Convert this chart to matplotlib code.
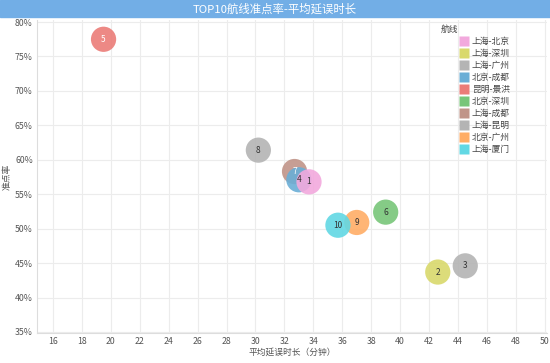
import matplotlib
matplotlib.use('Agg')
import matplotlib.pyplot as plt
from matplotlib.patches import Rectangle
from matplotlib.lines import Line2D

plt.rcParams['font.family'] = ['Noto Sans CJK SC', 'DejaVu Sans']

routes = ['上海-北京', '上海-深圳', '上海-广州', '北京-成都', '昆明-景洪',
          '北京-深圳', '上海-成都', '上海-昆明', '北京-广州', '上海-厦门']
ranks = [1, 2, 3, 4, 5, 6, 7, 8, 9, 10]
delay = [33.7, 42.6, 44.5, 33.0, 19.5, 39.0, 32.7, 30.2, 37.0, 35.7]
ontime = [56.8, 43.7, 44.6, 57.1, 77.5, 52.4, 58.3, 61.4, 50.9, 50.5]
colors = ['#f2a9dd', '#d9d96c', '#b4b4b4', '#6aaed6', '#eb7c78',
          '#78c679', '#c09488', '#b4b4b4', '#ffad66', '#62d8e4']
xticks = list(range(16, 51, 2))
yticks = list(range(35, 81, 5))

fig = plt.figure(figsize=(5.5, 3.63), dpi=100)
ax = fig.add_axes([37 / 550, 30 / 363, 510 / 550, 313 / 363])

# title bar
fig.patches.append(Rectangle((0, 346 / 363), 1, 17 / 363, transform=fig.transFigure,
                             color='#72aee6', zorder=0))
fig.text(0.5, 354.5 / 363, 'TOP10航线准点率-平均延误时长', ha='center', va='center',
         color='white', fontsize=8.2)

# draw in reverse so lower ranks sit on top
order = [4, 7, 6, 5, 2, 1, 8, 9, 3, 0]
for i in order:
    ax.scatter(delay[i], ontime[i], s=330, color=colors[i], alpha=0.9,
               edgecolors='none', zorder=3)
    ax.text(delay[i], ontime[i], str(ranks[i]), ha='center', va='center',
            fontsize=6, color='white' if ranks[i] in (5, 7) else '#333333', zorder=4)

ax.set_xlim(14.9, 50.15)
ax.set_ylim(34.85, 80.3)
ax.set_xticks(xticks)
ax.set_yticks(yticks)
ax.set_yticklabels(['%d%%' % v for v in yticks])
ax.tick_params(labelsize=6.3, colors='#555555', length=0, pad=3)
ax.grid(True, color='#ececec', linewidth=0.8)
ax.set_axisbelow(True)
for s in ['top', 'right']:
    ax.spines[s].set_visible(False)
for s in ['left', 'bottom']:
    ax.spines[s].set_color('#dddddd')

ax.set_xlabel('平均延误时长（分钟）', fontsize=6.3, color='#555555', labelpad=1)
ax.set_ylabel('准点率', fontsize=6.3, color='#555555', labelpad=2)

handles = [Line2D([0], [0], marker='s', linestyle='none', markersize=7,
                  markerfacecolor=c, markeredgecolor='none') for c in colors]
leg = ax.legend(handles, routes, loc='upper left',
                bbox_to_anchor=(0.823, 0.957), frameon=False, fontsize=6.3,
                handlelength=0.8, handletextpad=0.5,
                labelspacing=0.34, borderaxespad=0)
for t in leg.get_texts():
    t.set_color('#444444')
fig.text(441 / 550, 1 - 29 / 363, '航线', ha='left', va='center', fontsize=6.3,
         color='#444444')

fig.savefig('out.png', dpi=100)
